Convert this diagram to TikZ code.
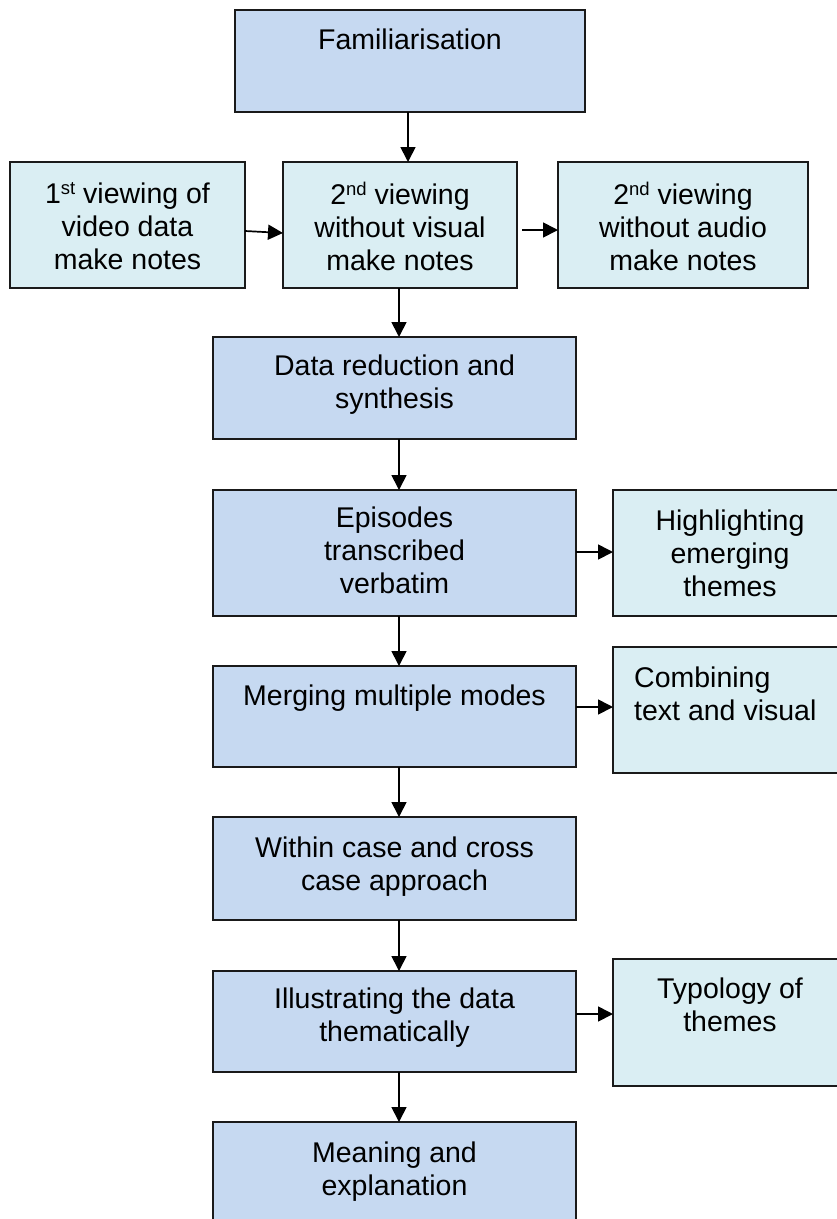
\documentclass[tikz,border=0pt]{standalone}
\usepackage{fontspec}
\setmainfont{Liberation Sans}
\usetikzlibrary{arrows.meta,calc}

\definecolor{stageblue}{HTML}{C6D9F1}
\definecolor{sideaqua}{HTML}{DAEEF3}
\definecolor{edgeline}{HTML}{1A1A1A}

\newcommand{\supr}[1]{\raisebox{9pt}{\fontsize{18.5}{20}\selectfont #1}}

\tikzset{
  box/.style={draw=edgeline, line width=1.8pt, rectangle, outer sep=0pt, inner sep=0pt},
  stage/.style={box, fill=stageblue},
  side/.style={box, fill=sideaqua},
  label text/.style={inner sep=0pt, align=center, anchor=north,
    font=\fontsize{28.5}{33}\selectfont},
  flow/.style={draw=black, line width=1.7pt, -{Triangle[length=15pt,width=15pt]}}
}

\begin{document}
\begin{tikzpicture}[x=1pt, y=-1pt]
  \useasboundingbox (0,0) rectangle (837,1219);
  \clip (0,0) rectangle (837,1219);

  % boxes of the main sequence
  \node[stage, minimum width=350pt, minimum height=102pt] (fam)   at (410,61) {};
  \node[side,  minimum width=235pt, minimum height=126pt] (v1)    at (127.5,225) {};
  \node[side,  minimum width=234pt, minimum height=126pt] (v2)    at (400,225) {};
  \node[side,  minimum width=250pt, minimum height=126pt] (v3)    at (683,225) {};
  \node[stage, minimum width=363pt, minimum height=102pt] (data)  at (394.5,388) {};
  \node[stage, minimum width=363pt, minimum height=126pt] (epi)   at (394.5,553) {};
  \node[side,  minimum width=234pt, minimum height=126pt] (high)  at (730,553) {};
  \node[stage, minimum width=363pt, minimum height=101pt] (merge) at (394.5,716.5) {};
  \node[side,  minimum width=234pt, minimum height=126pt] (comb)  at (730,710) {};
  \node[stage, minimum width=363pt, minimum height=103pt] (within) at (394.5,868.5) {};
  \node[stage, minimum width=363pt, minimum height=101pt] (illus) at (394.5,1021.5) {};
  \node[side,  minimum width=234pt, minimum height=127pt] (typ)   at (730,1022.5) {};
  \node[stage, minimum width=363pt, minimum height=104pt] (mean)  at (394.5,1174) {};

  % texts, set from the top of each box
  \node[label text] (famt)   at ($(fam.north)+(0,19)$)   {Familiarisation};
  \node[label text] (v1t)    at ($(v1.north)+(0,20)$)    {1\supr{st} viewing of\\video data\\make notes};
  \node[label text] (v2t)    at ($(v2.north)+(0,20)$)    {2\supr{nd} viewing\\without visual\\make notes};
  \node[label text] (v3t)    at ($(v3.north)+(0,20)$)    {2\supr{nd} viewing\\without audio\\make notes};
  \node[label text] (datat)  at ($(data.north)+(0,18)$)  {Data reduction and\\synthesis};
  \node[label text] (epit)   at ($(epi.north)+(0,17)$)   {Episodes\\transcribed\\verbatim};
  \node[label text] (hight)  at ($(high.north)+(0,20)$)  {Highlighting\\emerging\\themes};
  \node[label text] (merget) at ($(merge.north)+(0,19)$) {Merging multiple modes};
  \node[label text, align=left, anchor=north west] (combt) at ($(comb.north west)+(21,20)$) {Combining\\text and visual};
  \node[label text] (withint) at ($(within.north)+(0,20)$) {Within case and cross\\case approach};
  \node[label text] (illust) at ($(illus.north)+(0,17)$) {Illustrating the data\\thematically};
  \node[label text] (typt)   at ($(typ.north)+(0,19)$)   {Typology of\\themes};
  \node[label text] (meant)  at ($(mean.north)+(0,20)$)  {Meaning and\\explanation};

  % vertical flow
  \coordinate (famx) at (408,0);
  \coordinate (spine) at (399,0);
  \draw[flow] (fam.south -| famx) -- (v2.north -| famx);
  \draw[flow] (v2.south -| spine) -- (data.north -| spine);
  \draw[flow] (data.south -| spine) -- (epi.north -| spine);
  \draw[flow] (epi.south -| spine) -- (merge.north -| spine);
  \draw[flow] (merge.south -| spine) -- (within.north -| spine);
  \draw[flow] (within.south -| spine) -- (illus.north -| spine);
  \draw[flow] (illus.south -| spine) -- (mean.north -| spine);

  % side branches
  \draw[flow] ($(v1.east)+(0,6)$) -- ($(v2.west)+(0,8)$);
  \draw[flow] ($(v2.east)+(5,5)$) -- ($(v3.west)+(0,5)$);
  \draw[flow] ($(epi.east)+(0,-1)$) -- ($(high.west)+(0,-1)$);
  \draw[flow] ($(merge.east)+(0,-9.5)$) -- ($(comb.west)+(0,-3)$);
  \draw[flow] ($(illus.east)+(0,-7.5)$) -- ($(typ.west)+(0,-8.5)$);
\end{tikzpicture}
\end{document}
